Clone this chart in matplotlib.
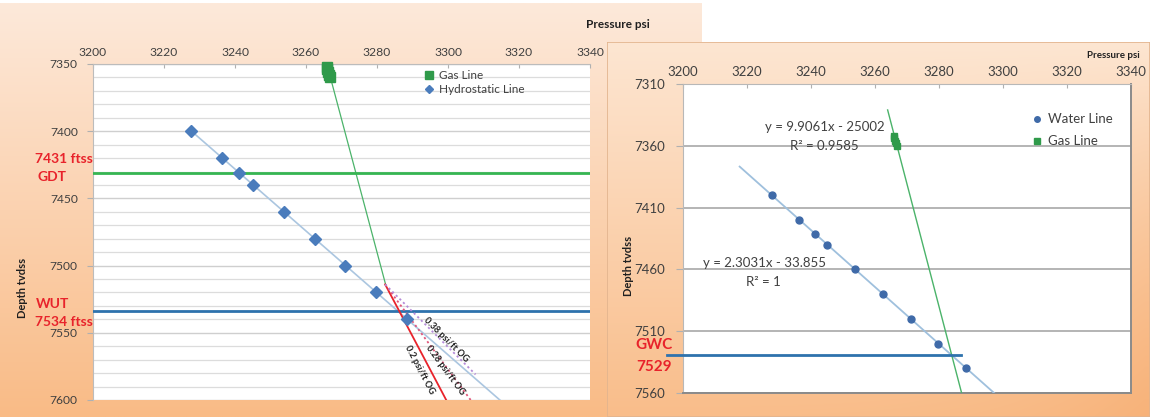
import math
import numpy as np
import matplotlib
matplotlib.use("Agg")
import matplotlib.pyplot as plt
from matplotlib.lines import Line2D
from matplotlib.colors import to_rgb

plt.rcParams['font.family'] = ['Lato', 'DejaVu Sans']

# ---- data -------------------------------------------------------------
# water (hydrostatic) gradient points: depth ft tvdss, pressure psi
water_depth = [7400, 7420, 7431, 7440, 7460, 7480, 7500, 7520, 7540]
water_psi = [3227.7, 3236.4, 3241.1, 3245.0, 3253.7, 3262.4, 3271.1, 3279.8, 3288.4]

# gas gradient points
gas_depth = [7352, 7354, 7356, 7358, 7360]
gas_psi = [3265.9, 3266.0, 3266.3, 3266.5, 3266.8]

# linear trendlines, depth = slope * pressure + intercept
water_fit = (2.3031, -33.855)
gas_fit = (9.9061, -25002.0)
water_eq = ["y = 2.3031x - 33.855", "R² = 1"]
gas_eq = ["y = 9.9061x - 25002", "R² = 0.9585"]

# fluid contacts
gdt_depth = 7431
wut_depth = 7534
gwc_depth = 7529

# oil gradients hung from the gas line end
og_start = (3282.3, 7514)
og_gradients = [0.2, 0.28, 0.38]
og_labels = ["0.2 psi/ft OG", "0.28 psi/ft OG", "0.38 psi/ft OG"]
og_end_depths = [7600, 7600, 7581]

x_ticks = [3200, 3220, 3240, 3260, 3280, 3300, 3320, 3340]
left_y_ticks = [7350, 7400, 7450, 7500, 7550, 7600]
right_y_ticks = [7310, 7360, 7410, 7460, 7510, 7560]

# ---- figure -----------------------------------------------------------
W, H = 1150, 417
fig = plt.figure(figsize=(W / 100, H / 100), dpi=100)
fig.patch.set_facecolor('white')


def px_axes(x0, y0, x1, y1, **kw):
    return fig.add_axes([x0 / W, 1 - y1 / H, (x1 - x0) / W, (y1 - y0) / H], **kw)


def gradient_panel(x0, y0, x1, y1, top, bottom, side=None, z=0):
    ax = px_axes(x0, y0, x1, y1, zorder=z)
    ny, nx = 200, 60
    t = np.linspace(0, 1, ny)[:, None]
    c0 = np.array(to_rgb(top))
    c1 = np.array(to_rgb(bottom))
    img = c0[None, None, :] * (1 - t[..., None]) + c1[None, None, :] * t[..., None]
    img = np.repeat(img, nx, axis=1)
    if side is not None:
        s = np.linspace(0, 1, nx)[None, :, None] ** 4 * t[..., None]
        img = img * (1 - 0.5 * s) + np.array(to_rgb(side))[None, None, :] * 0.5 * s
    ax.imshow(img, aspect='auto', extent=(0, 1, 0, 1), interpolation='bilinear')
    ax.set_xlim(0, 1)
    ax.set_ylim(0, 1)
    ax.axis('off')
    return ax


gradient_panel(0, 3, 702, 417, '#fde9da', '#f9bb86', z=0)
rp = gradient_panel(607, 42, 1150, 417, '#fde6d2', '#f9bd8a', side='#f6a869', z=3)
rp.add_patch(plt.Rectangle((0, 0), 1, 1, transform=rp.transAxes, fill=False,
                           edgecolor='#e2b48e', lw=1.2))

tick_color = '#404040'
red = '#e8232b'
blue_mk = '#4a7cbc'
green_mk = '#2f9a4a'

# ---- left chart -------------------------------------------------------
axL = px_axes(93, 64, 590, 400, zorder=2)
axL.set_facecolor('white')
axL.set_xlim(3200, 3340)
axL.set_ylim(7600, 7350)
axL.xaxis.tick_top()
axL.set_xticks(x_ticks)
axL.set_yticks(left_y_ticks)
axL.set_yticks(np.arange(7350, 7601, 10), minor=True)
axL.grid(True, axis='y', which='major', color='#cfcfcf', lw=1.0)
axL.grid(True, axis='y', which='minor', color='#dcdcdc', lw=0.9)
axL.set_axisbelow(True)
axL.tick_params(axis='x', which='both', labelsize=8.7, colors='#b0b0b0',
                labelcolor=tick_color, length=3, direction='in', pad=4)
axL.tick_params(axis='y', which='major', labelsize=8.7, colors='#b0b0b0',
                labelcolor=tick_color, length=4, direction='out', pad=7)
axL.tick_params(axis='y', which='minor', length=0)
for side in ('right', 'bottom'):
    axL.spines[side].set_visible(False)
for side in ('left', 'top'):
    axL.spines[side].set_color('#bcbcbc')

# hydrostatic trendline
wp = np.array([water_psi[0], 3325])
axL.plot(wp, water_fit[0] * wp + water_fit[1], color='#abc6e0', lw=1.2, zorder=3)
# gas trendline down to the oil-gradient hinge
gd = np.array([7350, og_start[1]])
axL.plot((gd - gas_fit[1]) / gas_fit[0], gd, color='#4bb36a', lw=0.9, zorder=3)

axL.axhline(gdt_depth, color='#36b552', lw=2.0, zorder=4)
axL.axhline(wut_depth, color='#2e72ad', lw=2.0, zorder=4)

og_styles = [dict(color='#e8232b', ls='-', lw=1.3),
             dict(color='#e0557a', ls=(0, (1.2, 1.6)), lw=1.3),
             dict(color='#b58ad8', ls=(0, (1.2, 1.6)), lw=1.3)]
for g, d_end, st in zip(og_gradients, og_end_depths, og_styles):
    axL.plot([og_start[0], og_start[0] + g * (d_end - og_start[1])],
             [og_start[1], d_end], zorder=5, **st)

axL.plot(water_psi, water_depth, ls='none', marker='D', ms=6.5,
         mfc=blue_mk, mec=blue_mk, zorder=6)
axL.plot(gas_psi, gas_depth, ls='none', marker='s', ms=6.5,
         mfc=green_mk, mec=green_mk, zorder=6, clip_on=False)

# labels along the oil gradients
og_label_pos = [(3291.9, 7577.5), (3299.2, 7578), (3299.5, 7555.5)]
fig.canvas.draw()
for g, lab, (lx, ly) in zip(og_gradients, og_labels, og_label_pos):
    p1 = axL.transData.transform((og_start[0], og_start[1]))
    p2 = axL.transData.transform((og_start[0] + g * 80, og_start[1] + 80))
    ang = math.degrees(math.atan2(p2[1] - p1[1], p2[0] - p1[0]))
    axL.text(lx, ly, lab, rotation=ang, rotation_mode='anchor', ha='center',
             va='center', fontsize=6.6, fontweight='bold', color='#202020', zorder=7)

legL = axL.legend(handles=[
    Line2D([], [], ls='none', marker='s', ms=6, mfc=green_mk, mec=green_mk, label='Gas Line'),
    Line2D([], [], ls='none', marker='D', ms=4, mfc=blue_mk, mec=blue_mk, label='Hydrostatic Line')],
    loc='upper left', bbox_to_anchor=((418 - 93) / 497, 1.0), frameon=False,
    fontsize=8.5, handlelength=0.8, handletextpad=0.4, labelspacing=0.25,
    borderaxespad=0.15)
for t in legL.get_texts():
    t.set_color(tick_color)

fig.text(618 / W, 1 - 24 / H, 'Pressure psi', ha='center', va='center',
         fontsize=8.5, fontweight='bold', color='#202020')
fig.text(22 / W, 1 - 288 / H, 'Depth tvdss', ha='center', va='center', rotation=90,
         fontsize=8, fontweight='bold', color='#202020')
for txt, x, y in [('7431 ftss', 35, 159), ('GDT', 37, 177),
                  ('WUT', 36, 304), ('7534 ftss', 35, 322)]:
    fig.text(x / W, 1 - y / H, txt, ha='left', va='center', fontsize=10,
             fontweight='bold', color=red, zorder=8)

# ---- right chart ------------------------------------------------------
axR = px_axes(683, 84, 1131, 393, zorder=4)
axR.set_facecolor('white')
axR.set_xlim(3200, 3340)
axR.set_ylim(7560, 7310)
axR.xaxis.tick_top()
axR.set_xticks(x_ticks)
axR.set_yticks(right_y_ticks)
axR.grid(True, axis='y', color='#b4b4b4', lw=1.4)
axR.set_axisbelow(True)
axR.tick_params(axis='x', labelsize=9.5, colors='#b0b0b0', labelcolor=tick_color,
                length=3, direction='in', pad=4)
axR.tick_params(axis='y', labelsize=9.5, colors='#b0b0b0', labelcolor=tick_color,
                length=5, direction='out', pad=8)
axR.spines['left'].set_color('#b8b8b8')
axR.spines['top'].set_color('#b8b8b8')
axR.spines['right'].set_color('#8a8a8a')
axR.spines['bottom'].set_color('#8a8a8a')
axR.spines['right'].set_linewidth(1.4)
axR.spines['bottom'].set_linewidth(1.4)

wp = np.array([water_psi[0] - 10, water_psi[-1] + 10])
axR.plot(wp, water_fit[0] * wp + water_fit[1], color='#9fc0dd', lw=1.3, zorder=3)
gd = np.array([7331, 7560])
axR.plot((gd - gas_fit[1]) / gas_fit[0], gd, color='#4bb36a', lw=1.0, zorder=3)

axR.plot([3195, 3287], [gwc_depth, gwc_depth], color='#2e72ad', lw=2.0,
         zorder=4, clip_on=False)

axR.plot(water_psi, water_depth, ls='none', marker='o', ms=5,
         mfc='#3f6aa8', mec='#3f6aa8', zorder=6)
axR.plot(gas_psi, gas_depth, ls='none', marker='s', ms=4.5,
         mfc=green_mk, mec=green_mk, zorder=6)

axR.text(3244.3, 7345, gas_eq[0], ha='center', va='center', fontsize=9.5, color=tick_color)
axR.text(3244.3, 7360.5, gas_eq[1], ha='center', va='center', fontsize=9.5, color=tick_color)
axR.text(3225.6, 7454.5, water_eq[0], ha='center', va='center', fontsize=9.5, color=tick_color)
axR.text(3225.2, 7470, water_eq[1], ha='center', va='center', fontsize=9.5, color=tick_color)

legR = axR.legend(handles=[
    Line2D([], [], ls='none', marker='o', ms=4, mfc='#3f6aa8', mec='#3f6aa8', label='Water Line'),
    Line2D([], [], ls='none', marker='s', ms=4, mfc=green_mk, mec=green_mk, label='Gas Line')],
    loc='upper left', bbox_to_anchor=((1028 - 683) / 448, 1 - (108 - 84) / 309),
    frameon=False, fontsize=9.5, handlelength=0.6, handletextpad=0.5,
    labelspacing=0.75, borderaxespad=0.0)
for t in legR.get_texts():
    t.set_color(tick_color)

fig.text(1113 / W, 1 - 55 / H, 'Pressure psi', ha='center', va='center',
         fontsize=7, fontweight='bold', color='#202020', zorder=8)
fig.text(628 / W, 1 - 266 / H, 'Depth tvdss', ha='center', va='center', rotation=90,
         fontsize=8, fontweight='bold', color='#202020', zorder=8)
fig.text(635 / W, 1 - 345 / H, 'GWC', ha='left', va='center', fontsize=11,
         fontweight='bold', color=red, zorder=8)
fig.text(636 / W, 1 - 367 / H, '7529', ha='left', va='center', fontsize=11,
         fontweight='bold', color=red, zorder=8)

fig.savefig('out.png', dpi=100, facecolor=fig.get_facecolor())
